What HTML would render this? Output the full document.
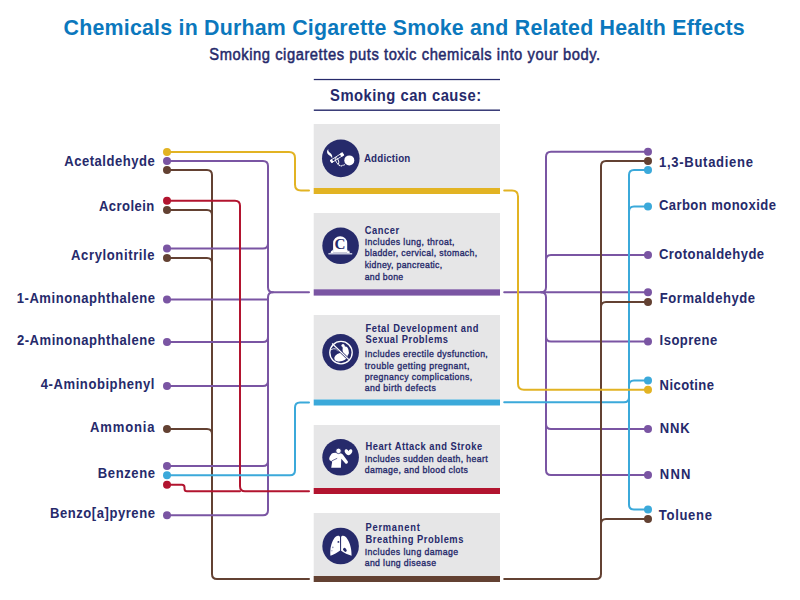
<!DOCTYPE html>
<html><head><meta charset="utf-8">
<style>
html,body{margin:0;padding:0;background:#fff;width:800px;height:600px;overflow:hidden}
svg{display:block}
text{font-family:"Liberation Sans",sans-serif}
.ln{fill:none;stroke-width:2;stroke-linecap:round;stroke-linejoin:round}
</style></head>
<body>
<svg width="800" height="600" viewBox="0 0 800 600">
<text transform="scale(0.93,1)" x="68.39" y="35.00" textLength="732.37" lengthAdjust="spacing" style="font-size:23px;font-weight:bold;fill:#0b78bd">Chemicals in Durham Cigarette Smoke and Related Health Effects</text>
<text transform="scale(0.92,1)" x="227.50" y="59.70" textLength="424.89" lengthAdjust="spacing" style="font-size:16px;font-weight:normal;fill:#262a6b;stroke:#262a6b;stroke-width:0.5">Smoking cigarettes puts toxic chemicals into your body.</text>
<rect x="313.8" y="78.9" width="186.2" height="1.25" fill="#262a6b"/>
<rect x="313.8" y="109.5" width="186.2" height="1.4" fill="#262a6b"/>
<text transform="scale(0.86,1)" x="383.84" y="100.60" textLength="175.70" lengthAdjust="spacing" style="font-size:17.2px;font-weight:bold;fill:#262a6b">Smoking can cause:</text>
<rect x="313.7" y="124" width="186.3" height="64.0" fill="#e6e6e7"/>
<rect x="313.7" y="188" width="186.3" height="6.0" fill="#e2b323"/>
<rect x="313.7" y="213" width="186.3" height="76.3" fill="#e6e6e7"/>
<rect x="313.7" y="289.3" width="186.3" height="6.3" fill="#7a55a3"/>
<rect x="313.7" y="315" width="186.3" height="84.5" fill="#e6e6e7"/>
<rect x="313.7" y="399.5" width="186.3" height="6.0" fill="#3ba9da"/>
<rect x="313.7" y="425" width="186.3" height="63.0" fill="#e6e6e7"/>
<rect x="313.7" y="488" width="186.3" height="6.0" fill="#b2142f"/>
<rect x="313.7" y="513" width="186.3" height="63.0" fill="#e6e6e7"/>
<rect x="313.7" y="576" width="186.3" height="6.0" fill="#634132"/>
<path class="ln" stroke="#634132" d="M167,170 H207 Q212,170 212,175 V574 Q212,579 217,579 H309"/>
<path class="ln" stroke="#634132" d="M167,210 H207 Q212,210 212,215"/>
<path class="ln" stroke="#634132" d="M167,258 H207 Q212,258 212,263"/>
<path class="ln" stroke="#634132" d="M167,429 H207 Q212,429 212,434"/>
<path class="ln" stroke="#7a55a3" d="M167,161 H263 Q268,161 268,166 V287.2 Q268,292.2 273,292.2 H309"/>
<path class="ln" stroke="#7a55a3" d="M167,515.3 H263 Q268,515.3 268,510.3 V297.2 Q268,292.2 273,292.2"/>
<path class="ln" stroke="#7a55a3" d="M167,248.4 H263 Q268,248.4 268,243.4"/>
<path class="ln" stroke="#7a55a3" d="M167,342 H263 Q268,342 268,337"/>
<path class="ln" stroke="#7a55a3" d="M167,386 H263 Q268,386 268,381"/>
<path class="ln" stroke="#7a55a3" d="M167,466 H263 Q268,466 268,461"/>
<path class="ln" stroke="#7a55a3" d="M167,299.6 H268"/>
<path class="ln" stroke="#7a55a3" d="M504.2,292.2 H648"/>
<path class="ln" stroke="#7a55a3" d="M648,151.8 H551 Q546,151.8 546,156.8 V287.2 Q546,292.2 541,292.2"/>
<path class="ln" stroke="#7a55a3" d="M648,475 H551 Q546,475 546,470 V297.2 Q546,292.2 541,292.2"/>
<path class="ln" stroke="#7a55a3" d="M648,255 H551 Q546,255 546,260"/>
<path class="ln" stroke="#7a55a3" d="M648,341.6 H551 Q546,341.6 546,336.6"/>
<path class="ln" stroke="#7a55a3" d="M648,429 H551 Q546,429 546,424"/>
<path class="ln" stroke="#b2142f" d="M167,200.7 H235 Q240,200.7 240,205.7 V486.2 Q240,491.2 245,491.2 H309"/>
<path class="ln" stroke="#b2142f" d="M167,484.8 H182 Q184.5,484.8 184.5,487.3 V488.7 Q184.5,491.2 187,491.2 H240"/>
<path class="ln" stroke="#3ba9da" d="M167,475.2 H290 Q295,475.2 295,470.2 V407.4 Q295,402.4 300,402.4 H309"/>
<path class="ln" stroke="#3ba9da" d="M648,170 H634 Q629,170 629,175 V504.5 Q629,509.5 634,509.5 H648"/>
<path class="ln" stroke="#3ba9da" d="M648,206.6 H634 Q629,206.6 629,211.6"/>
<path class="ln" stroke="#3ba9da" d="M648,380.5 H634 Q629,380.5 629,385.5"/>
<path class="ln" stroke="#3ba9da" d="M504.2,402.3 H624 Q629,402.3 629,397.3"/>
<path class="ln" stroke="#634132" d="M648,160.9 H606 Q601,160.9 601,165.9 V574 Q601,579 596,579 H504.2"/>
<path class="ln" stroke="#634132" d="M648,302 H606 Q601,302 601,307"/>
<path class="ln" stroke="#634132" d="M648,519 H606 Q601,519 601,524"/>
<path class="ln" stroke="#e2b323" d="M167,152 H289 Q295,152 295,158 V184.4 Q295,190.4 301,190.4 H309"/>
<path class="ln" stroke="#e2b323" d="M504.2,190.4 H512 Q518,190.4 518,196.4 V383.8 Q518,389.8 524,389.8 H648"/>
<circle cx="167" cy="152" r="4" fill="#e2b323"/>
<circle cx="167" cy="161" r="4" fill="#7a55a3"/>
<circle cx="167" cy="170" r="4" fill="#634132"/>
<circle cx="167" cy="200.7" r="4" fill="#b2142f"/>
<circle cx="167" cy="210" r="4" fill="#634132"/>
<circle cx="167" cy="248.4" r="4" fill="#7a55a3"/>
<circle cx="167" cy="258" r="4" fill="#634132"/>
<circle cx="167" cy="299.6" r="4" fill="#7a55a3"/>
<circle cx="167" cy="342" r="4" fill="#7a55a3"/>
<circle cx="167" cy="386" r="4" fill="#7a55a3"/>
<circle cx="167" cy="429" r="4" fill="#634132"/>
<circle cx="167" cy="466" r="4" fill="#7a55a3"/>
<circle cx="167" cy="475.2" r="4" fill="#3ba9da"/>
<circle cx="167" cy="484.8" r="4" fill="#b2142f"/>
<circle cx="167" cy="515.3" r="4" fill="#7a55a3"/>
<circle cx="648" cy="151.8" r="4" fill="#7a55a3"/>
<circle cx="648" cy="160.9" r="4" fill="#634132"/>
<circle cx="648" cy="170" r="4" fill="#3ba9da"/>
<circle cx="648" cy="206.6" r="4" fill="#3ba9da"/>
<circle cx="648" cy="255" r="4" fill="#7a55a3"/>
<circle cx="648" cy="292.2" r="4" fill="#7a55a3"/>
<circle cx="648" cy="302" r="4" fill="#634132"/>
<circle cx="648" cy="341.6" r="4" fill="#7a55a3"/>
<circle cx="648" cy="380.5" r="4" fill="#3ba9da"/>
<circle cx="648" cy="389.8" r="4" fill="#e2b323"/>
<circle cx="648" cy="429" r="4" fill="#7a55a3"/>
<circle cx="648" cy="475" r="4" fill="#7a55a3"/>
<circle cx="648" cy="509.5" r="4" fill="#3ba9da"/>
<circle cx="648" cy="519" r="4" fill="#634132"/>
<text transform="scale(0.9,1)" x="71.33" y="165.60" textLength="100.67" lengthAdjust="spacing" style="font-size:14.5px;font-weight:bold;fill:#262a6b">Acetaldehyde</text>
<text transform="scale(0.9,1)" x="110.00" y="210.70" textLength="61.44" lengthAdjust="spacing" style="font-size:14.5px;font-weight:bold;fill:#262a6b">Acrolein</text>
<text transform="scale(0.9,1)" x="78.94" y="259.75" textLength="92.83" lengthAdjust="spacing" style="font-size:14.5px;font-weight:bold;fill:#262a6b">Acrylonitrile</text>
<text transform="scale(0.9,1)" x="18.56" y="303.40" textLength="153.61" lengthAdjust="spacing" style="font-size:14.5px;font-weight:bold;fill:#262a6b">1-Aminonaphthalene</text>
<text transform="scale(0.9,1)" x="18.78" y="345.40" textLength="153.39" lengthAdjust="spacing" style="font-size:14.5px;font-weight:bold;fill:#262a6b">2-Aminonaphthalene</text>
<text transform="scale(0.9,1)" x="45.33" y="389.30" textLength="126.33" lengthAdjust="spacing" style="font-size:14.5px;font-weight:bold;fill:#262a6b">4-Aminobiphenyl</text>
<text transform="scale(0.9,1)" x="100.06" y="432.30" textLength="71.72" lengthAdjust="spacing" style="font-size:14.5px;font-weight:bold;fill:#262a6b">Ammonia</text>
<text transform="scale(0.9,1)" x="108.67" y="478.50" textLength="63.50" lengthAdjust="spacing" style="font-size:14.5px;font-weight:bold;fill:#262a6b">Benzene</text>
<text transform="scale(0.9,1)" x="55.56" y="518.50" textLength="116.61" lengthAdjust="spacing" style="font-size:14.5px;font-weight:bold;fill:#262a6b">Benzo[a]pyrene</text>
<text transform="scale(0.9,1)" x="732.22" y="166.70" textLength="104.44" lengthAdjust="spacing" style="font-size:14.5px;font-weight:bold;fill:#262a6b">1,3-Butadiene</text>
<text transform="scale(0.9,1)" x="732.11" y="210.40" textLength="130.00" lengthAdjust="spacing" style="font-size:14.5px;font-weight:bold;fill:#262a6b">Carbon monoxide</text>
<text transform="scale(0.9,1)" x="732.11" y="258.80" textLength="116.89" lengthAdjust="spacing" style="font-size:14.5px;font-weight:bold;fill:#262a6b">Crotonaldehyde</text>
<text transform="scale(0.9,1)" x="733.00" y="302.70" textLength="106.00" lengthAdjust="spacing" style="font-size:14.5px;font-weight:bold;fill:#262a6b">Formaldehyde</text>
<text transform="scale(0.9,1)" x="732.89" y="344.80" textLength="64.00" lengthAdjust="spacing" style="font-size:14.5px;font-weight:bold;fill:#262a6b">Isoprene</text>
<text transform="scale(0.9,1)" x="732.89" y="389.80" textLength="60.44" lengthAdjust="spacing" style="font-size:14.5px;font-weight:bold;fill:#262a6b">Nicotine</text>
<text transform="scale(0.9,1)" x="733.11" y="432.80" textLength="33.22" lengthAdjust="spacing" style="font-size:14.5px;font-weight:bold;fill:#262a6b">NNK</text>
<text transform="scale(0.9,1)" x="733.11" y="478.80" textLength="34.00" lengthAdjust="spacing" style="font-size:14.5px;font-weight:bold;fill:#262a6b">NNN</text>
<text transform="scale(0.9,1)" x="732.00" y="519.80" textLength="59.11" lengthAdjust="spacing" style="font-size:14.5px;font-weight:bold;fill:#262a6b">Toluene</text>
<text transform="scale(0.88,1)" x="413.52" y="161.90" textLength="52.73" lengthAdjust="spacing" style="font-size:11.100000000000001px;font-weight:bold;fill:#262a6b">Addiction</text>
<text transform="scale(0.88,1)" x="414.43" y="233.90" textLength="39.20" lengthAdjust="spacing" style="font-size:10.600000000000001px;font-weight:bold;fill:#262a6b">Cancer</text>
<text transform="scale(0.88,1)" x="415.34" y="332.20" textLength="128.41" lengthAdjust="spacing" style="font-size:10.600000000000001px;font-weight:bold;fill:#262a6b">Fetal Development and</text>
<text transform="scale(0.88,1)" x="415.34" y="342.75" textLength="93.64" lengthAdjust="spacing" style="font-size:10.600000000000001px;font-weight:bold;fill:#262a6b">Sexual Problems</text>
<text transform="scale(0.88,1)" x="415.34" y="449.80" textLength="132.50" lengthAdjust="spacing" style="font-size:10.600000000000001px;font-weight:bold;fill:#262a6b">Heart Attack and Stroke</text>
<text transform="scale(0.88,1)" x="415.34" y="530.70" textLength="61.70" lengthAdjust="spacing" style="font-size:10.600000000000001px;font-weight:bold;fill:#262a6b">Permanent</text>
<text transform="scale(0.88,1)" x="415.34" y="542.70" textLength="111.25" lengthAdjust="spacing" style="font-size:10.600000000000001px;font-weight:bold;fill:#262a6b">Breathing Problems</text>
<text transform="scale(0.92,1)" x="396.41" y="244.75" textLength="97.55" lengthAdjust="spacing" style="font-size:9.5px;font-weight:normal;fill:#262a6b;stroke:#262a6b;stroke-width:0.35">Includes lung, throat,</text>
<text transform="scale(0.92,1)" x="396.41" y="256.40" textLength="122.28" lengthAdjust="spacing" style="font-size:9.5px;font-weight:normal;fill:#262a6b;stroke:#262a6b;stroke-width:0.35">bladder, cervical, stomach,</text>
<text transform="scale(0.92,1)" x="396.41" y="267.80" textLength="84.24" lengthAdjust="spacing" style="font-size:9.5px;font-weight:normal;fill:#262a6b;stroke:#262a6b;stroke-width:0.35">kidney, pancreatic,</text>
<text transform="scale(0.92,1)" x="396.41" y="279.70" textLength="41.85" lengthAdjust="spacing" style="font-size:9.5px;font-weight:normal;fill:#262a6b;stroke:#262a6b;stroke-width:0.35">and bone</text>
<text transform="scale(0.92,1)" x="396.41" y="356.60" textLength="133.80" lengthAdjust="spacing" style="font-size:9.5px;font-weight:normal;fill:#262a6b;stroke:#262a6b;stroke-width:0.35">Includes erectile dysfunction,</text>
<text transform="scale(0.92,1)" x="396.41" y="368.75" textLength="113.80" lengthAdjust="spacing" style="font-size:9.5px;font-weight:normal;fill:#262a6b;stroke:#262a6b;stroke-width:0.35">trouble getting pregnant,</text>
<text transform="scale(0.92,1)" x="396.41" y="379.80" textLength="116.96" lengthAdjust="spacing" style="font-size:9.5px;font-weight:normal;fill:#262a6b;stroke:#262a6b;stroke-width:0.35">pregnancy complications,</text>
<text transform="scale(0.92,1)" x="396.41" y="391.50" textLength="77.28" lengthAdjust="spacing" style="font-size:9.5px;font-weight:normal;fill:#262a6b;stroke:#262a6b;stroke-width:0.35">and birth defects</text>
<text transform="scale(0.92,1)" x="396.41" y="461.70" textLength="133.80" lengthAdjust="spacing" style="font-size:9.5px;font-weight:normal;fill:#262a6b;stroke:#262a6b;stroke-width:0.35">Includes sudden death, heart</text>
<text transform="scale(0.92,1)" x="396.41" y="473.40" textLength="112.17" lengthAdjust="spacing" style="font-size:9.5px;font-weight:normal;fill:#262a6b;stroke:#262a6b;stroke-width:0.35">damage, and blood clots</text>
<text transform="scale(0.92,1)" x="396.41" y="554.60" textLength="101.63" lengthAdjust="spacing" style="font-size:9.5px;font-weight:normal;fill:#262a6b;stroke:#262a6b;stroke-width:0.35">Includes lung damage</text>
<text transform="scale(0.92,1)" x="396.41" y="566.40" textLength="77.61" lengthAdjust="spacing" style="font-size:9.5px;font-weight:normal;fill:#262a6b;stroke:#262a6b;stroke-width:0.35">and lung disease</text>
<!-- ICONS -->
<g fill="#262a6b">
<circle cx="340.8" cy="158.4" r="18.8"/>
<circle cx="340.6" cy="245.8" r="18.3"/>
<circle cx="340.6" cy="352.3" r="18.3"/>
<circle cx="340.6" cy="457.3" r="18.3"/>
<circle cx="340.6" cy="546" r="18.3"/>
</g>
<!-- addiction -->
<g fill="#fff">
<circle cx="349.3" cy="160.4" r="5"/>
<path d="M328.3,148.9 C326.4,150.6 326.7,153.1 328.5,154.7 C329.9,155.9 331.5,156.6 332.1,158.4 C332.8,156.1 331.7,154.3 330.3,153.1 C328.9,151.9 327.8,150.7 328.3,148.9 Z"/>
<g transform="translate(330.8,161.7) rotate(-32.5)">
<rect x="0.4" y="-1.3" width="14" height="2.6" fill="none" stroke="#fff" stroke-width="0.8"/>
<rect x="11.6" y="-1.7" width="3.2" height="3.4"/>
<rect x="-0.2" y="-1.7" width="2.4" height="3.4" rx="0.8"/>
</g>
<ellipse cx="337" cy="160.6" rx="1.3" ry="3.2" transform="rotate(-25 337 160.6)" fill="none" stroke="#fff" stroke-width="0.9"/>
<path d="M337.6,163.4 Q339.2,166 341.8,165.8 L344.8,164.6" fill="none" stroke="#fff" stroke-width="1.2" stroke-dasharray="1.4,0.5"/>
</g>
<!-- cancer -->
<g>
<path d="M333.1,252.7 V243.2 A7.05,7.05 0 0 1 347.2,243.2 V252.7 Z" fill="#fff"/>
<path d="M330.6,253 L331.2,250.6 L332,251.4 L332.4,249.6 L333.2,250.8 L333.4,253 Z M349.8,253 L349.2,250.6 L348.4,251.4 L348,249.6 L347.2,250.8 L347,253 Z" fill="#fff"/>
<rect x="328.4" y="253" width="23.8" height="1.5" fill="#c3c6dc"/>
<text x="340.1" y="248.5" text-anchor="middle" style="font-family:'Liberation Serif',serif;font-weight:bold;font-size:15.2px;fill:#262a6b">C</text>
</g>
<!-- fetal -->
<g>
<circle cx="341" cy="352.6" r="11.2" fill="none" stroke="#fff" stroke-width="1.35"/>
<g fill="#fff">
<circle cx="343" cy="345.5" r="1.6"/>
<ellipse cx="343.9" cy="347.6" rx="1.3" ry="1.8"/>
<ellipse cx="345.7" cy="351.2" rx="3" ry="4.6" transform="rotate(-12 345.7 351.2)"/>
<ellipse cx="341" cy="357" rx="6.9" ry="4.2" transform="rotate(-16 341 357)"/>
</g>
<path d="M330.6,350 Q333.2,348.2 335.6,348.8 L338.2,351.4" fill="none" stroke="#fff" stroke-width="0.8"/>
<line x1="336.8" y1="348" x2="347.4" y2="358.2" stroke="#262a6b" stroke-width="2.5"/>
<line x1="332.1" y1="343.5" x2="348.9" y2="359.6" stroke="#fff" stroke-width="1.2"/>
</g>
<!-- heart attack -->
<g fill="#fff">
<path d="M335.3,452.8 L340.6,453.3 Q342,453.6 342.8,454.6 L347.9,461.4 Q348.2,462.6 347.2,463.4 L346.6,463.7 Q345.8,463.9 345.2,463.2 L341.3,458.8 L340.9,467.7 L331.2,467.7 L332.2,461.6 L331,461.1 Q329.3,460.6 329.2,459 Q329.2,457.8 329.8,456.6 L331.6,453.8 Q332.6,452.8 335.3,452.8 Z"/>
<path d="M331.8,460.9 L337.2,458.3" stroke="#262a6b" stroke-width="0.7" fill="none"/>
<circle cx="338.5" cy="450.9" r="2.7" stroke="#262a6b" stroke-width="0.8"/>
<path d="M348.5,451.2 C347.8,449.6 346.4,449 345.4,449.4 C344.4,449.9 344.5,451.8 345.2,452.8 C346,454.2 347.4,455.2 348.5,455.3 C349.6,455.2 351,454.2 351.8,452.8 C352.5,451.8 352.6,449.9 351.6,449.4 C350.6,449 349.2,449.6 348.5,451.2 Z"/>
</g>
<!-- lungs -->
<g fill="#fff">
<path d="M340,537.2 C339.6,535.4 337.4,535.2 335.6,536.8 C332.8,539.4 330.8,545 330.4,550 C330.2,552.4 330.3,554.4 330.5,555.8 C333.8,554.6 337.4,552.6 340.1,550.6 Z"/>
<path d="M341.1,537.2 C341.5,535.4 343.7,535.2 345.5,536.8 C348.3,539.4 350.7,545 351.2,550 C351.5,552.4 351.5,554.4 351.6,555.8 C348,554.8 344,552.8 341.1,550.8 Z"/>
</g>
<g fill="#262a6b">
<circle cx="338.4" cy="541.9" r="0.95"/>
<ellipse cx="332.9" cy="547.4" rx="0.5" ry="0.8" opacity="0.8"/>
<ellipse cx="331.9" cy="550.8" rx="0.45" ry="0.7" opacity="0.6"/>
<ellipse cx="344.9" cy="549.9" rx="1.5" ry="2.2" transform="rotate(-40 344.9 549.9)"/>
</g>

</svg>
</body></html>
